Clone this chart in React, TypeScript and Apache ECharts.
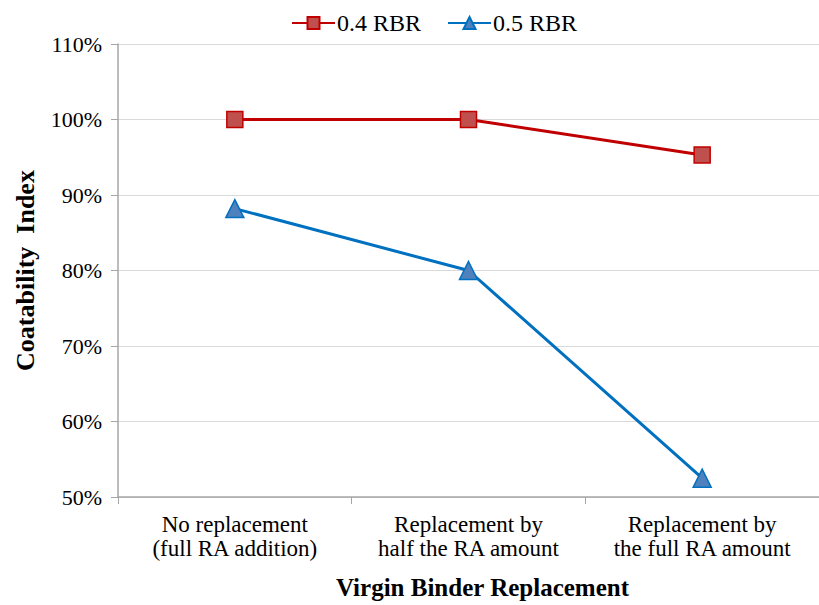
import React, { useEffect, useRef } from "react";
import * as echarts from "echarts";

const categories = [
  "No replacement\n(full RA addition)",
  "Replacement by\nhalf the RA amount",
  "Replacement by\nthe full RA amount",
];
const rbr04 = [100, 100, 95.3];
const rbr05 = [88.2, 80.0, 52.5];
const seriesNames = ["0.4 RBR", "0.5 RBR"];

const FONT = "Times New Roman, Liberation Serif, DejaVu Serif, serif";

export default function App() {
  const ref = useRef<HTMLDivElement>(null);
  useEffect(() => {
    if (!ref.current) return;
    const chart = echarts.init(ref.current, undefined, { renderer: "svg" });
    chart.setOption({
      animation: false,
      backgroundColor: "#ffffff",
      textStyle: { fontFamily: FONT },
      legend: {
        top: 6,
        left: 286,
        itemWidth: 43,
        itemHeight: 15,
        itemGap: 26,
        textStyle: { fontFamily: FONT, fontSize: 24, color: "#000", padding: [0, 0, 0, -3] },
        data: seriesNames,
      },
      grid: { left: 118, right: -8, top: 44, bottom: 107 },
      xAxis: {
        type: "category",
        data: categories,
        boundaryGap: true,
        name: "Virgin Binder Replacement",
        nameLocation: "middle",
        nameGap: 78,
        nameTextStyle: {
          fontFamily: FONT,
          fontSize: 25,
          fontWeight: "bold",
          color: "#000",
          padding: [0, 0, 0, 28],
        },
        axisLine: { lineStyle: { color: "#A6A6A6", width: 1.5 } },
        axisTick: { show: true, interval: 0, length: 7, lineStyle: { color: "#A6A6A6" } },
        axisLabel: {
          interval: 0,
          hideOverlap: false,
          fontFamily: FONT,
          fontSize: 23,
          color: "#000",
          lineHeight: 24,
          margin: 15,
        },
      },
      yAxis: {
        type: "value",
        min: 50,
        max: 110,
        interval: 10,
        name: "Coatability  Index",
        nameLocation: "middle",
        nameGap: 80,
        nameTextStyle: { fontFamily: FONT, fontSize: 26, fontWeight: "bold", color: "#000" },
        axisLine: { show: true, lineStyle: { color: "#A6A6A6", width: 1.5 } },
        axisTick: { show: true, length: 7, lineStyle: { color: "#A6A6A6" } },
        splitLine: { lineStyle: { color: "#D9D9D9", width: 1.2 } },
        axisLabel: {
          fontFamily: FONT,
          fontSize: 22,
          color: "#000",
          margin: 16,
          formatter: (v: number) => v + "%",
        },
      },
      series: [
        {
          name: seriesNames[0],
          type: "line",
          data: rbr04,
          symbol: "rect",
          symbolSize: 16,
          lineStyle: { color: "#C00000", width: 3 },
          itemStyle: { color: "#C0504D", borderColor: "#C00000", borderWidth: 1.5 },
        },
        {
          name: seriesNames[1],
          type: "line",
          data: rbr05,
          symbol: "triangle",
          symbolSize: 18,
          lineStyle: { color: "#0070C0", width: 3 },
          itemStyle: { color: "#4F81BD", borderColor: "#0070C0", borderWidth: 1.5 },
        },
      ],
    });
    return () => chart.dispose();
  }, []);
  return <div ref={ref} style={{ width: 819, height: 605, position: "absolute", left: 0, top: 0 }} />;
}
